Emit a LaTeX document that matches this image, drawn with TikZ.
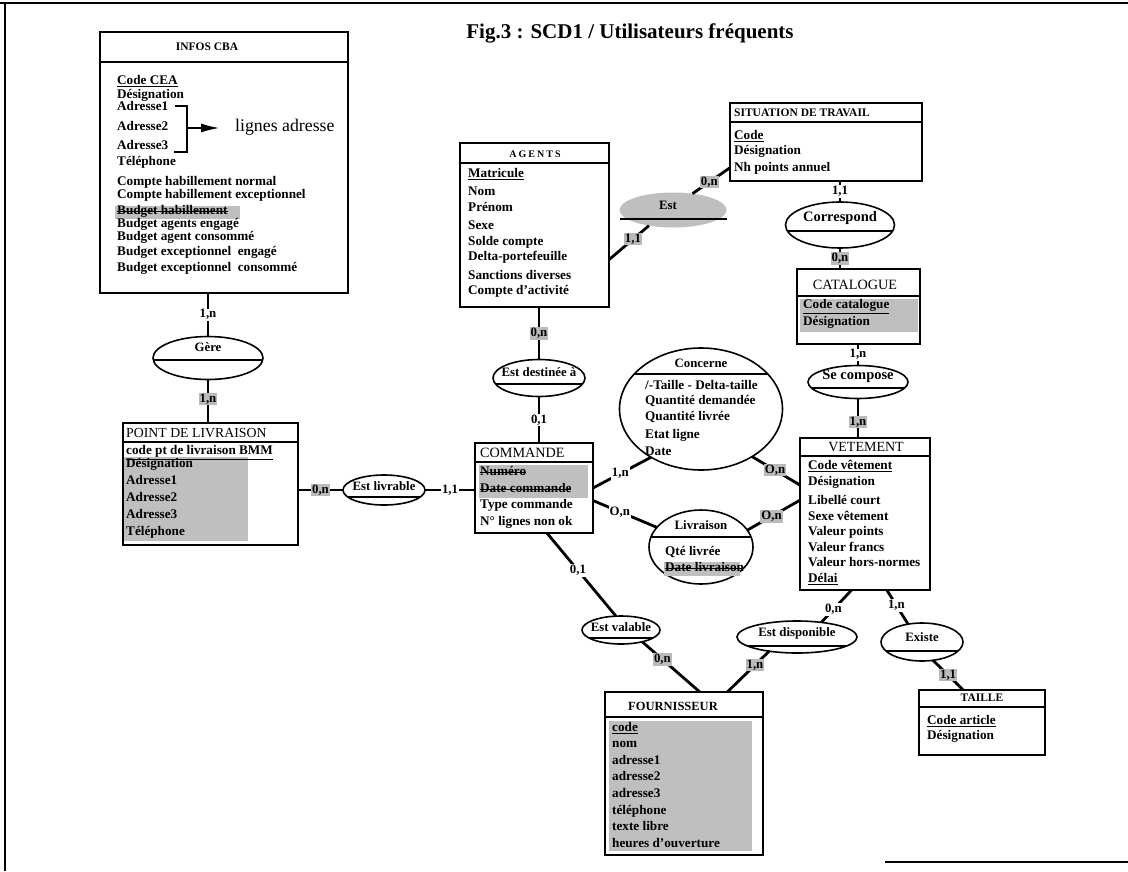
\documentclass[tikz,border=0pt]{standalone}
\usepackage{fontspec}
\setmainfont{Liberation Serif}
\usetikzlibrary{shapes.geometric,arrows.meta,calc}

\newcommand{\mystrike}[1]{\leavevmode\setbox0=\hbox{#1}\rlap{\vrule height 3.6pt depth -2.6pt width \wd0}\box0}

\tikzset{
  ent/.style={draw, line width=1.6pt, rectangle, inner sep=0pt, outer sep=0pt},
  rel/.style={draw, line width=1.6pt, ellipse, inner sep=0pt, outer sep=0pt},
  lnk/.style={line width=2.8pt},
  att/.style={anchor=west, inner sep=0pt, text height=8pt, text depth=3pt,
              font=\fontsize{13.2}{15}\selectfont\bfseries},
  hdr/.style={inner sep=0pt, font=\fontsize{#1}{#1}\selectfont\bfseries},
  hdrR/.style={inner sep=0pt, font=\fontsize{#1}{#1}\selectfont},
  reltxt/.style={inner sep=0pt, font=\fontsize{12.8}{15}\selectfont\bfseries},
  card/.style={fill=white, inner sep=1pt, font=\fontsize{12.8}{14}\selectfont\bfseries},
  cardS/.style={card, fill=black!27},
  shade/.style={fill=black!25, draw=none},
}

\newcommand{\entbox}[6]{%
  \node[ent, minimum width={(#4-#2)*1pt}, minimum height={(#5-#3)*1pt}] (#1) at ({(#2+#4)/2},{(#3+#5)/2}) {};
  \draw[line width=1.4pt] (#1.west |- 0,#6) -- (#1.east |- 0,#6);
}
\newcommand{\relnode}[8]{%
  \node[rel, minimum width={#4*1pt}, minimum height={#5*1pt}] (#1) at (#2,#3) {};
  \begin{scope}
    \clip (#2,#3) ellipse [x radius={#4*0.5pt}, y radius={#5*0.5pt}];
    \draw[line width=1.4pt] ({#2-#4/2},#6) -- ({#2+#4/2},#6);
  \end{scope}
  \node[reltxt] (#1-t) at (#2,#7) {#8};
}

\begin{document}
\begin{tikzpicture}[x=1pt,y=-1pt]
\useasboundingbox (0,0) rectangle (1128,871);
% frame
\draw[line width=1.5pt] (0,3) -- (1128,3);
\draw[line width=1.2pt] (5,3) -- (5,871);
\draw[line width=1.5pt] (885,862) -- (1128,862);

\node[inner sep=0pt, font=\fontsize{21}{24}\selectfont\bfseries] (title) at (630,33) {Fig.3 : SCD1 / Utilisateurs fréquents};

% ---------- INFOS CBA
\entbox{infos}{100}{32}{348}{293}{62}
\node[hdr=11.5] (infos-h) at (207,47) {INFOS CBA};
\fill[shade] (115,206) rectangle (240,219);
\foreach \yy/\txt [count=\i] in {82/\underline{Code CEA}, 96/Désignation, 108/Adresse1, 128/Adresse2, 147/Adresse3, 163/Téléphone, 183/Compte habillement normal, 196/Compte habillement exceptionnel, 212/\mystrike{Budget habillement}, 225/Budget agents engagé, 238/Budget agent consommé, 253/Budget exceptionnel\ \ engagé, 269/Budget exceptionnel\ \ consommé}
  \node[att] (infos-a\i) at (117,\yy) {\txt};
\draw[line width=1.3pt] (175,106) -- (187,106) -- (187,152) -- (174,152);
\coordinate (brk) at (187,128);
\coordinate (arrend) at (219,128);
\node[inner sep=0pt, anchor=west, font=\fontsize{17.8}{20}\selectfont] (lignes) at (235,127) {lignes adresse};
\draw[line width=1.3pt, -{Latex[length=18pt,width=9pt]}] (brk) -- (arrend);

% ---------- POINT DE LIVRAISON
\entbox{pdl}{123}{423}{298}{545}{442}
\node[hdrR=13.8, anchor=west] (pdl-h) at (126,433) {POINT DE LIVRAISON};
\fill[shade] (124,457) rectangle (248,541);
\foreach \yy/\txt [count=\i] in {452/\underline{code pt de livraison BMM}, 465/Désignation, 482/Adresse1, 499/Adresse2, 516/Adresse3, 533/Téléphone}
  \node[att] (pdl-a\i) at (126,\yy) {\txt};

% ---------- AGENTS
\entbox{agents}{460}{143}{609}{307}{163}
\node[inner sep=0pt, font=\fontsize{10}{12}\selectfont\bfseries\addfontfeature{LetterSpace=20}] (agents-h) at (535,154) {AGENTS};
\foreach \yy/\txt [count=\i] in {175/\underline{Matricule}, 193/Nom, 209/Prénom, 227/Sexe, 243/Solde compte, 258/Delta-portefeuille, 277/Sanctions diverses, 292/Compte d'activité}
  \node[att] (agents-a\i) at (468,\yy) {\txt};

% ---------- SITUATION DE TRAVAIL
\entbox{sit}{730}{103}{922}{181}{122}
\node[hdr=11.5, anchor=west] (sit-h) at (734,113) {SITUATION DE TRAVAIL};
\foreach \yy/\txt [count=\i] in {137/\underline{Code}, 152/Désignation, 169/Nh points annuel}
  \node[att] (sit-a\i) at (734,\yy) {\txt};

% ---------- CATALOGUE
\entbox{cat}{797}{269}{920}{344}{296}
\node[hdrR=14.2] (cat-h) at (855,285) {CATALOGUE};
\fill[shade] (800,299) rectangle (918,332);
\foreach \yy/\txt [count=\i] in {306/\underline{Code catalogue}, 323/Désignation}
  \node[att] (cat-a\i) at (803,\yy) {\txt};

% ---------- VETEMENT
\entbox{vet}{800}{438}{930}{590}{456}
\node[hdrR=14] (vet-h) at (866,447) {VETEMENT};
\foreach \yy/\txt [count=\i] in {467/\underline{Code vêtement}, 483/Désignation, 502/Libellé court, 518/Sexe vêtement, 533/Valeur points, 549/Valeur francs, 564/Valeur hors-normes, 580/\underline{Délai}}
  \node[att] (vet-a\i) at (808,\yy) {\txt};

% ---------- COMMANDE
\entbox{cmd}{475}{443}{593}{533}{462}
\node[hdrR=14.2, anchor=west] (cmd-h) at (480,453) {COMMANDE};
\fill[shade] (479,465) rectangle (588,498);
\foreach \yy/\txt [count=\i] in {473/\mystrike{Numéro}, 490/\mystrike{Date commande}, 506/Type commande, 523/N° lignes non ok}
  \node[att] (cmd-a\i) at (480,\yy) {\txt};

% ---------- FOURNISSEUR
\entbox{four}{605}{692}{763}{855}{717}
\node[hdr=12.5] (four-h) at (673,706) {FOURNISSEUR};
\fill[shade] (609,721) rectangle (752,851);
\foreach \yy/\txt [count=\i] in {729/\underline{code}, 745/nom, 762/adresse1, 778/adresse2, 795/adresse3, 812/téléphone, 828/texte libre, 845/heures d'ouverture}
  \node[att] (four-a\i) at (612,\yy) {\txt};

% ---------- TAILLE
\entbox{taille}{919}{690}{1045}{755}{707}
\node[hdr=11.5] (taille-h) at (982,698) {TAILLE};
\foreach \yy/\txt [count=\i] in {722/\underline{Code article}, 737/Désignation}
  \node[att] (taille-a\i) at (927,\yy) {\txt};

% ---------- relations
\relnode{gere}{208}{358}{110}{43}{360}{347}{Gère}
\relnode{estdest}{539}{378}{92}{37}{384}{372}{Est destinée à}
\relnode{corr}{840}{225}{109}{46}{231}{218}{\fontsize{14.5}{16}\selectfont Correspond}
\relnode{secomp}{858}{382}{100}{33}{388}{376}{\fontsize{14.5}{16}\selectfont Se compose}
\relnode{estliv}{384}{490}{82}{30}{497}{486}{Est livrable}
\relnode{estval}{621}{630}{78}{28}{638}{627}{Est valable}
\relnode{disp}{797}{637}{120}{32}{646}{633}{Est disponible}
\relnode{exist}{922}{642}{82}{38}{651}{637}{Existe}
\relnode{conc}{701}{409}{163}{122}{374}{363}{Concerne}
\node[att] (conc-a1) at (645,387) {/-Taille - Delta-taille};
\node[att] (conc-a2) at (645,402) {Quantité demandée};
\node[att] (conc-a3) at (645,418) {Quantité livrée};
\node[att] (conc-a4) at (645,436) {Etat ligne};
\node[att] (conc-a5) at (645,453) {Date};
\relnode{livr}{701}{547}{104}{74}{537}{525}{Livraison}
\fill[shade] (664,562) rectangle (740,576);
\node[att] (livr-a1) at (665,553) {Qté livrée};
\node[att] (livr-a2) at (665,569) {\mystrike{Date livraison}};

% Est (shaded relation)
\node[fill=black!25, ellipse, minimum width=107pt, minimum height=35pt, inner sep=0pt, outer sep=0pt] (est) at (673,210) {};
\draw[line width=2.8pt] (est.west |- 0,219) -- (est.east |- 0,219);
\node[reltxt] (est-t) at (668,205) {Est};

% ---------- connectors
\draw[lnk] (gere.north |- infos.south) -- node[card] (c1) {1,n} (gere.north);
\draw[lnk] (gere.south) -- node[cardS,pos=.45] (c2) {1,n} (gere.south |- pdl.north);
\draw[lnk] (estliv.west -| pdl.east) -- node[cardS] (c3) {0,n} (estliv.west);
\draw[lnk] (estliv.east) -- node[card] (c4) {1,1} (estliv.east -| cmd.west);
\draw[lnk] (estdest.north |- agents.south) -- node[cardS] (c5) {0,n} (estdest.north);
\draw[lnk] (estdest.south) -- node[card] (c6) {0,1} (estdest.south |- cmd.north);
\draw[lnk] (sit.195) -- node[cardS,pos=.55] (c7) {0,n} (est.40);
\draw[lnk] (est.213) -- node[cardS,pos=.4] (c8) {1,1} (agents.-25);
\draw[lnk] (corr.north |- sit.south) -- node[card] (c9) {1,1} (corr.north);
\draw[lnk] (corr.south) -- node[cardS] (c10) {0,n} (corr.south |- cat.north);
\draw[lnk] (secomp.north |- cat.south) -- node[card] (c11) {1,n} (secomp.north);
\draw[lnk] (secomp.south) -- node[cardS,pos=.6] (c12) {1,n} (secomp.south |- vet.north);
\draw[lnk] (cmd.east) -- node[card,pos=.47] (c13) {1,n} (conc.224);
\draw[lnk] (cmd.-12) -- node[card,pos=.42] (c14) {O,n} (livr.156);
\draw[lnk] (conc.-43) -- node[cardS,pos=.48] (c15) {O,n} (vet.156);
\draw[lnk] (livr.20) -- node[cardS,pos=.46] (c16) {O,n} (vet.168);
\draw[lnk] (cmd.-74) -- node[card,pos=.45] (c17) {0,1} (estval.110);
\draw[lnk] (estval.-29) -- node[cardS,pos=.35] (c18) {0,n} (four.79);
\draw[lnk] (vet.260) -- node[card,pos=.6] (c19) {0,n} (disp.31);
\draw[lnk] (disp.207) -- node[cardS,pos=.34] (c20) {1,n} (four.62);
\draw[lnk] (vet.-74) -- node[card,pos=.45] (c21) {1,n} (exist.128);
\draw[lnk] (exist.-59) -- node[cardS,pos=.5] (c22) {1,1} (taille.120);
\end{tikzpicture}
\end{document}
